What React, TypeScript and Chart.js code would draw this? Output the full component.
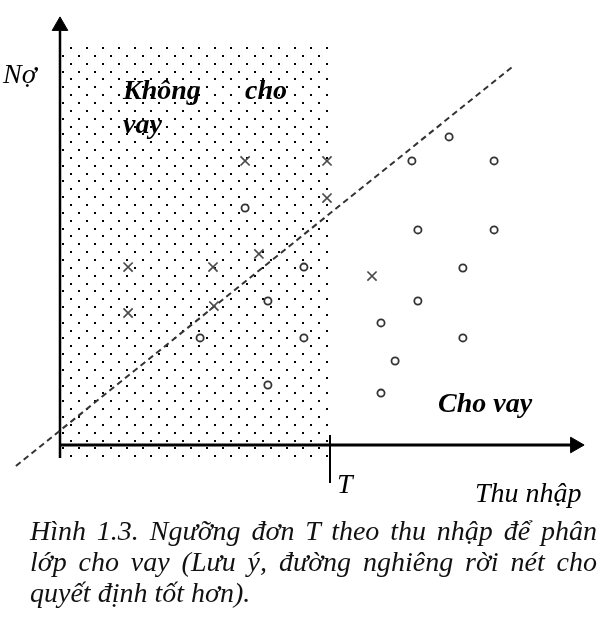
import React, { useEffect, useRef } from "react";
import { Chart, registerables } from "chart.js";

Chart.register(...registerables);

// Income (Thu nhập) / debt (Nợ) coordinates (arbitrary units)
const lendIncome = [12.97, 11.73, 14.47, 6.17, 11.93, 14.47, 8.13, 13.43, 6.93, 11.93, 10.7, 4.67, 8.13, 13.43, 11.17, 6.93, 10.7];
const lendDebt = [10.27, 9.47, 9.47, 7.9, 7.17, 7.17, 5.93, 5.9, 4.8, 4.8, 4.07, 3.57, 3.57, 3.57, 2.8, 2.0, 1.73];
const noLendIncome = [6.17, 8.9, 8.9, 6.63, 2.27, 5.1, 2.27, 5.13, 10.4];
const noLendDebt = [9.47, 9.47, 8.23, 6.37, 5.93, 5.93, 4.4, 4.63, 5.63];
const boundaryIncome = [-1.47, 15.07];
const boundaryDebt = [-0.7, 12.6];
const thresholdT = 9;

// axis extents
const xAxisEnd = 17.03;
const yAxisEnd = 13.8;
const axisLow = -0.43;

const captionLines = [
  "Hình 1.3. Ngưỡng đơn T theo thu nhập để phân",
  "lớp cho vay (Lưu ý, đường nghiêng rời nét cho",
  "quyết định tốt hơn).",
];

const SERIF = '"Liberation Serif", "Times New Roman", serif';

const textLabels = [
  { text: "Nợ", x: -1.9, y: 12.07, font: `italic 28px ${SERIF}` },
  { text: "Không", x: 2.1, y: 11.53, font: `italic bold 28px ${SERIF}` },
  { text: "cho", x: 6.17, y: 11.53, font: `italic bold 28px ${SERIF}` },
  { text: "vay", x: 2.1, y: 10.4, font: `italic bold 28px ${SERIF}` },
  { text: "Cho vay", x: 12.6, y: 1.1, font: `italic bold 28px ${SERIF}` },
  { text: "T", x: 9.23, y: -1.6, font: `italic 28px ${SERIF}` },
  { text: "Thu nhập", x: 13.83, y: -1.9, font: `italic 28px ${SERIF}` },
];

const dotRegion = { xMin: 0, xMax: thresholdT, yMin: axisLow, yMax: 13.4 };

const pts = (xs: number[], ys: number[]) => xs.map((x, i) => ({ x, y: ys[i] }));

const decorPlugin = {
  id: "decor",
  beforeDatasetsDraw(chart: any) {
    const { ctx, scales } = chart;
    const xs = scales.x;
    const ys = scales.y;
    const left = xs.getPixelForValue(dotRegion.xMin);
    const right = xs.getPixelForValue(dotRegion.xMax);
    const top = ys.getPixelForValue(dotRegion.yMax);
    const bottom = ys.getPixelForValue(dotRegion.yMin);
    ctx.save();
    ctx.fillStyle = "#000";
    const rowStep = 7.85;
    let row = 0;
    for (let y = top + 4; y <= bottom; y += rowStep, row++) {
      const start = left + (row % 2 === 0 ? 10 : 2);
      for (let x = start; x <= right - 2; x += 16) {
        ctx.fillRect(Math.round(x), Math.round(y), 2, 2);
      }
    }
    ctx.restore();
  },
  afterDatasetsDraw(chart: any) {
    const { ctx, scales } = chart;
    ctx.save();
    ctx.fillStyle = "#000";
    ctx.textAlign = "left";
    ctx.textBaseline = "alphabetic";
    for (const l of textLabels) {
      ctx.font = l.font;
      ctx.fillText(l.text, scales.x.getPixelForValue(l.x), scales.y.getPixelForValue(l.y));
    }
    ctx.restore();
  },
};

export default function App() {
  const ref = useRef<HTMLCanvasElement | null>(null);

  useEffect(() => {
    if (!ref.current) return;
    const chart = new Chart(ref.current, {
      type: "scatter",
      data: {
        datasets: [
          {
            label: "Cho vay",
            data: pts(lendIncome, lendDebt),
            pointStyle: "circle",
            pointRadius: 3.6,
            pointBorderWidth: 1.8,
            pointBorderColor: "#333",
            pointBackgroundColor: "#fff",
          },
          {
            label: "Không cho vay",
            data: pts(noLendIncome, noLendDebt),
            pointStyle: "crossRot",
            pointRadius: 6.5,
            pointBorderWidth: 1.7,
            pointBorderColor: "#4a4a4a",
          },
          {
            label: "boundary",
            data: pts(boundaryIncome, boundaryDebt),
            showLine: true,
            borderColor: "#333",
            borderWidth: 2,
            borderDash: [6, 4],
            pointRadius: 0,
          },
          {
            label: "y axis",
            data: [{ x: 0, y: axisLow }, { x: 0, y: yAxisEnd }],
            showLine: true,
            borderColor: "#000",
            borderWidth: 2.5,
            pointRadius: 0,
          },
          {
            label: "x axis",
            data: [{ x: 0, y: 0 }, { x: xAxisEnd, y: 0 }],
            showLine: true,
            borderColor: "#000",
            borderWidth: 3,
            pointRadius: 0,
          },
          {
            label: "arrows",
            data: [{ x: 0, y: 13.97 }, { x: 17.17, y: 0 }],
            pointStyle: "triangle",
            pointRadius: 9,
            pointRotation: [0, 90] as any,
            pointBackgroundColor: "#000",
            pointBorderColor: "#000",
            pointBorderWidth: 1,
          },
          {
            label: "T",
            data: [{ x: thresholdT, y: 0.33 }, { x: thresholdT, y: -1.27 }],
            showLine: true,
            borderColor: "#000",
            borderWidth: 2,
            pointRadius: 0,
          },
        ],
      },
      options: {
        animation: false,
        responsive: false,
        maintainAspectRatio: false,
        events: [],
        layout: { padding: 0, autoPadding: false } as any,
        plugins: { legend: { display: false }, tooltip: { enabled: false } },
        scales: {
          x: { type: "linear", min: -2, max: 18, display: false },
          y: { type: "linear", min: -2.5, max: 445 / 30, display: false },
        },
      },
      plugins: [decorPlugin],
    });
    return () => chart.destroy();
  }, []);

  return (
    <div style={{ position: "absolute", left: 0, top: 0, width: 600, height: 626, background: "#fff", overflow: "hidden" }}>
      <canvas ref={ref} width={600} height={520} style={{ position: "absolute", left: 0, top: 0, width: 600, height: 520 }} />
      <div
        style={{
          position: "absolute",
          left: 30,
          top: 515,
          width: 567,
          fontFamily: SERIF,
          fontStyle: "italic",
          fontSize: 28,
          lineHeight: "31px",
          color: "#111",
        }}
      >
        {captionLines.map((t, i) => (
          <div
            key={i}
            style={{
              textAlign: i < captionLines.length - 1 ? "justify" : "left",
              textAlignLast: i < captionLines.length - 1 ? "justify" : "left",
              whiteSpace: "nowrap",
            } as any}
          >
            {t}
          </div>
        ))}
      </div>
    </div>
  );
}
